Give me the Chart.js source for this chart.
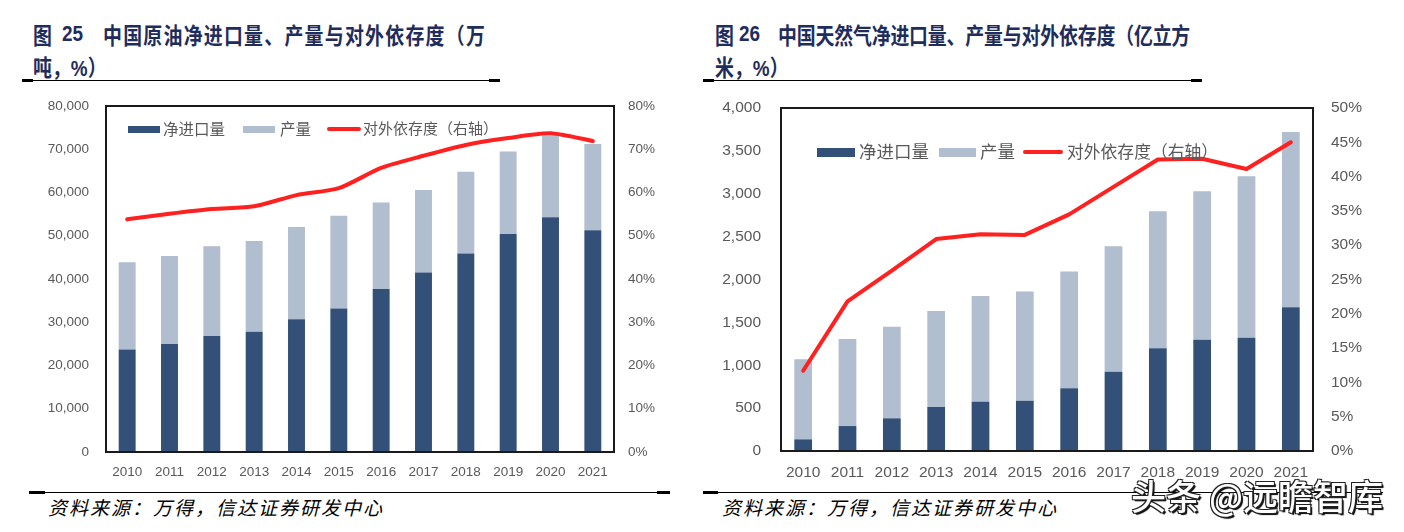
<!DOCTYPE html>
<html><head><meta charset="utf-8">
<script src="https://cdn.jsdelivr.net/npm/chart.js@4"></script>
<style>
body{margin:0;width:1404px;height:532px;background:#fff;position:relative;overflow:hidden;font-family:"Noto Sans CJK SC",sans-serif;}
.abs{position:absolute;white-space:nowrap;}
.title{color:#1F2D5C;font-weight:bold;font-size:22.5px;line-height:26px;transform:scaleX(0.84);transform-origin:left center;}
.num{font-family:"Liberation Sans",Arial,sans-serif;}
.rule{position:absolute;background:#000;height:1px;}
.cap{position:absolute;background:#000;height:3px;}
.foot{color:#000;font-style:italic;font-size:19px;line-height:24px;letter-spacing:2px;}
.leg{color:#595959;}
.wm{color:#fff;font-size:35px;line-height:40px;font-weight:500;
 text-shadow:-1px -1px 0 #222,1px -1px 0 #222,-1px 1px 0 #222,1px 1px 0 #222,2px 2px 1px #000;}
canvas{position:absolute;}
</style>
</head><body>
<!-- Titles chart 1 -->
<div class="abs title" style="left:33px;top:21px;">图</div>
<div class="abs title num" style="left:62px;top:21px;">25</div>
<div class="abs title" style="left:103px;top:21px;letter-spacing:1.5px;">中国原油净进口量、产量与对外依存度（万</div>
<div class="abs title" style="left:33px;top:53px;">吨，<span class="num">%</span>）</div>
<div class="rule" style="left:22px;top:80px;width:478px;"></div>
<div class="cap" style="left:22px;top:79px;width:11px;"></div>
<div class="cap" style="left:489px;top:79px;width:11px;"></div>

<!-- Titles chart 2 -->
<div class="abs title" style="left:715px;top:21px;">图</div>
<div class="abs title num" style="left:739px;top:21px;">26</div>
<div class="abs title" style="left:778px;top:21px;letter-spacing:-0.2px;">中国天然气净进口量、产量与对外依存度（亿立方</div>
<div class="abs title" style="left:715px;top:53px;">米，<span class="num">%</span>）</div>
<div class="rule" style="left:703px;top:80px;width:499px;"></div>
<div class="cap" style="left:703px;top:79px;width:11px;"></div>
<div class="cap" style="left:1191px;top:79px;width:11px;"></div>

<canvas id="c1" width="700" height="400" style="left:0;top:90px;width:700px;height:400px;"></canvas>
<canvas id="c2" width="704" height="400" style="left:700px;top:90px;width:704px;height:400px;"></canvas>

<!-- Legend chart 1 -->
<div class="abs" style="left:128px;top:126px;width:32px;height:7px;background:#335078;"></div>
<div class="abs leg" style="left:163px;top:119px;font-size:15.5px;line-height:18px;">净进口量</div>
<div class="abs" style="left:243px;top:126px;width:32px;height:7px;background:#B1BECF;"></div>
<div class="abs leg" style="left:280px;top:119px;font-size:15.5px;line-height:18px;">产量</div>
<div class="abs" style="left:327px;top:127px;width:34px;height:4px;background:#FF2020;border-radius:2px;"></div>
<div class="abs leg" style="left:363px;top:119px;font-size:15px;line-height:18px;">对外依存度（右轴）</div>

<!-- Legend chart 2 -->
<div class="abs" style="left:817px;top:148px;width:38px;height:9px;background:#335078;"></div>
<div class="abs leg" style="left:859px;top:141px;font-size:17.5px;line-height:20px;">净进口量</div>
<div class="abs" style="left:939px;top:148px;width:37px;height:9px;background:#B1BECF;"></div>
<div class="abs leg" style="left:980px;top:141px;font-size:17.5px;line-height:20px;">产量</div>
<div class="abs" style="left:1023px;top:150px;width:40px;height:4px;background:#FF2020;border-radius:2px;"></div>
<div class="abs leg" style="left:1067px;top:141px;font-size:16.8px;line-height:20px;">对外依存度（右轴）</div>

<!-- Footers -->
<div class="rule" style="left:29px;top:492px;width:641px;"></div>
<div class="cap" style="left:29px;top:491px;width:16px;"></div>
<div class="cap" style="left:657px;top:491px;width:13px;"></div>
<div class="abs foot" style="left:48px;top:495px;">资料来源：万得，信达证券研发中心</div>
<div class="rule" style="left:703px;top:492px;width:680px;"></div>
<div class="cap" style="left:703px;top:491px;width:15px;"></div>
<div class="abs foot" style="left:722px;top:495px;">资料来源：万得，信达证券研发中心</div>
<div class="abs wm" style="left:1131px;top:475px;">头条 @远瞻智库</div>

<script>
const years = ['2010','2011','2012','2013','2014','2015','2016','2017','2018','2019','2020','2021'];

// Chart 1: crude oil (万吨, %)
const oilNetImport = [23700, 25000, 26800, 27800, 30700, 33200, 37700, 41500, 45900, 50400, 54300, 51300];
const oilProduction = [20200, 20300, 20800, 21000, 21300, 21400, 20000, 19100, 18900, 19100, 18900, 19900];
const oilDependence = [53.8, 55.1, 56.2, 56.8, 59.4, 61.0, 65.7, 68.5, 71.0, 72.6, 73.7, 71.9];
const oilLeftTicks = [0, 10000, 20000, 30000, 40000, 50000, 60000, 70000, 80000];
const oilRightTicks = [0, 10, 20, 30, 40, 50, 60, 70, 80];

// Chart 2: natural gas (亿立方米, %)
const gasNetImport = [136, 291, 381, 513, 575, 586, 731, 924, 1197, 1297, 1320, 1675];
const gasProduction = [933, 1014, 1068, 1119, 1232, 1275, 1363, 1465, 1600, 1733, 1885, 2046];
const gasDependence = [11.7, 21.8, 26.3, 30.9, 31.6, 31.5, 34.5, 38.5, 42.5, 42.6, 41.1, 45.0];
const gasLeftTicks = [0, 500, 1000, 1500, 2000, 2500, 3000, 3500, 4000];
const gasRightTicks = [0, 5, 10, 15, 20, 25, 30, 35, 40, 45, 50];

const seriesNames = ['净进口量', '产量', '对外依存度（右轴）'];

const DARK = '#335078', LIGHT = '#B1BECF', RED = '#FF2020', GRAY = '#595959';

const framePlugin = {
  id: 'frame',
  afterDatasetsDraw(chart) {
    const {ctx, chartArea: a} = chart;
    ctx.save();
    ctx.strokeStyle = '#1a1a1a';
    ctx.lineWidth = 2;
    ctx.strokeRect(a.left, a.top, a.right - a.left, a.bottom - a.top);
    ctx.restore();
  }
};

function makeChart(id, c) {
  const font = {family: 'Liberation Sans', size: c.fs};
  const noGrid = {display: false, drawTicks: false};
  new Chart(document.getElementById(id), {
    type: 'bar',
    data: {
      labels: years,
      datasets: [
        {label: seriesNames[0], data: c.net, backgroundColor: DARK, yAxisID: 'y', barPercentage: 0.4, categoryPercentage: 1, order: 1},
        {label: seriesNames[1], data: c.prod, backgroundColor: LIGHT, yAxisID: 'y', barPercentage: 0.4, categoryPercentage: 1, order: 1},
        {type: 'line', label: seriesNames[2], data: c.dep, borderColor: RED, backgroundColor: RED, borderWidth: 4,
         pointRadius: 0, tension: c.tension, yAxisID: 'y1', order: 0, borderCapStyle: 'round', borderJoinStyle: 'round'}
      ]
    },
    options: {
      responsive: false, animation: false, maintainAspectRatio: false,
      layout: {padding: {top: c.padTop, left: 0, right: 0, bottom: 0}, autoPadding: false},
      plugins: {legend: {display: false}, tooltip: {enabled: false}},
      scales: {
        x: {stacked: true, grid: noGrid, border: {display: false},
            ticks: {color: GRAY, font, padding: c.xPad, maxRotation: 0, autoSkip: false},
            afterFit(s) { s.height = c.xH; s.paddingLeft = 0; s.paddingRight = 0; }},
        y: {stacked: true, position: 'left', min: 0, max: c.leftTicks[c.leftTicks.length - 1],
            afterBuildTicks(s) { s.ticks = c.leftTicks.map(v => ({value: v})); },
            grid: noGrid, border: {display: false},
            ticks: {color: GRAY, font, padding: c.yPad, callback: v => Number(v).toLocaleString('en-US')},
            afterFit(s) { s.width = c.yW; s.paddingTop = 0; s.paddingBottom = 0; }},
        y1: {position: 'right', min: 0, max: c.rightTicks[c.rightTicks.length - 1],
            afterBuildTicks(s) { s.ticks = c.rightTicks.map(v => ({value: v})); },
            grid: noGrid, border: {display: false},
            ticks: {color: GRAY, font, padding: c.y1Pad, callback: v => v + '%'},
            afterFit(s) { s.width = c.y1W; s.paddingTop = 0; s.paddingBottom = 0; }}
      }
    },
    plugins: [framePlugin]
  });
}

makeChart('c1', {net: oilNetImport, prod: oilProduction, dep: oilDependence, leftTicks: oilLeftTicks, rightTicks: oilRightTicks,
  fs: 13.5, padTop: 16, yW: 106, y1W: 86, xH: 38, xPad: 12, yPad: 17, y1Pad: 14, tension: 0.25});
makeChart('c2', {net: gasNetImport, prod: gasProduction, dep: gasDependence, leftTicks: gasLeftTicks, rightTicks: gasRightTicks,
  fs: 15.5, padTop: 18, yW: 81, y1W: 91, xH: 39, xPad: 12, yPad: 20, y1Pad: 18, tension: 0});
</script>
</body></html>
